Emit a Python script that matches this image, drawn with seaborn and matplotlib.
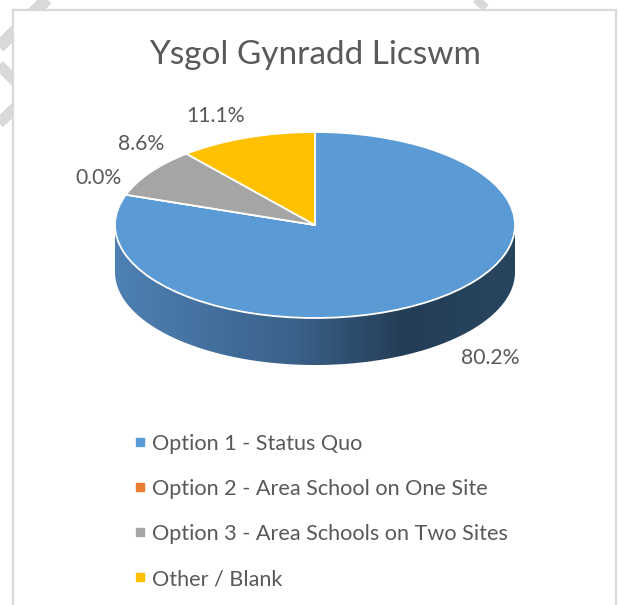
import numpy as np
import seaborn as sns
import matplotlib.pyplot as plt
from matplotlib.lines import Line2D
from matplotlib.patches import Rectangle, Polygon
from matplotlib.colors import LinearSegmentedColormap

sns.set_theme(style="white")
plt.rcParams['font.family'] = ['Lato', 'DejaVu Sans']

title = "Ysgol Gynradd Licswm"
options = ["Option 1 - Status Quo",
           "Option 2 - Area School on One Site",
           "Option 3 - Area Schools on Two Sites",
           "Other / Blank"]
shares = [80.2, 0.0, 8.6, 11.1]
colors = ["#5b9bd5", "#ed7d31", "#a5a5a5", "#ffc000"]
txt = "#595959"

W, H = 618, 605
fig = plt.figure(figsize=(W / 100, H / 100), dpi=100)

# page background + chart frame (pixel coords)
bg = fig.add_axes([0, 0, 1, 1])
bg.set_xlim(0, W)
bg.set_ylim(H, 0)
bg.axis('off')
for (x0, y0, x1, y1, lw) in [(52, -6, -6, 52, 9), (-6, 60, 40, 106, 8),
                             (-6, 128, 40, 84, 8), (470, -6, 486, 8, 6)]:
    bg.plot([x0, x1], [y0, y1], color="#d9d9d9", lw=lw, solid_capstyle='butt')
bg.add_patch(Rectangle((12.5, 9.5), 603, 620, facecolor="white",
                       edgecolor="#d9d9d9", lw=1.6, zorder=3))

# pie axes: 1 unit = 200 px horizontally, 93 px vertically, centre at (315, 225)
cx, cy, rx, ry = 315, 225, 200, 93
depth = 47 / ry
ax = fig.add_axes([0, 0, 1, 1], zorder=2)
ax.patch.set_alpha(0)

# side of the cylinder (front half is all Option 1)
t = np.linspace(np.pi, 2 * np.pi, 200)
side = np.concatenate([np.c_[np.cos(t), np.sin(t)],
                       np.c_[np.cos(t[::-1]), np.sin(t[::-1]) - depth]])
clip = Polygon(side, closed=True, transform=ax.transData, facecolor='none',
               edgecolor='none')
ax.add_patch(clip)
cmap = LinearSegmentedColormap.from_list(
    "side", [(0, "#4e80b3"), (0.45, "#3a618a"), (0.72, "#243d56"), (1, "#284560")])
grad = ax.imshow(np.linspace(0, 1, 256)[None, :], cmap=cmap, aspect='auto',
                 extent=[-1, 1, -1 - depth, 0], interpolation='bicubic', zorder=1)
grad.set_clip_path(clip)

wedges, _ = ax.pie(shares, colors=colors, startangle=90, counterclock=False,
                   radius=1, wedgeprops=dict(edgecolor="white", linewidth=1.3, zorder=2))
ax.set_aspect('auto')
ax.set_xlim((0 - cx) / rx, (W - cx) / rx)
ax.set_ylim((cy - H) / ry, cy / ry)
ax.axis('off')

# data labels (pixel positions)
label_pos = [(490, 358), (98, 178), (141, 144), (216, 116)]
for v, (px, py) in zip(shares, label_pos):
    fig.text(px / W, 1 - py / H, f"{v:.1f}%", ha='center', va='center',
             fontsize=15.2, color=txt)

fig.text(315 / W, 1 - 55 / H, title, ha='center', va='center',
         fontsize=24, color=txt)

handles = [Line2D([], [], marker='s', ls='', markersize=5.5, color=c) for c in colors]
leg = fig.legend(handles, options, loc='upper left',
                 bbox_to_anchor=(125 / W, 1 - 425 / H), frameon=False,
                 fontsize=15.6, labelcolor=txt, handlelength=0.55,
                 handletextpad=0.3, labelspacing=1.16, borderaxespad=0)
leg.set_zorder(5)

fig.savefig("out.png", dpi=100)
